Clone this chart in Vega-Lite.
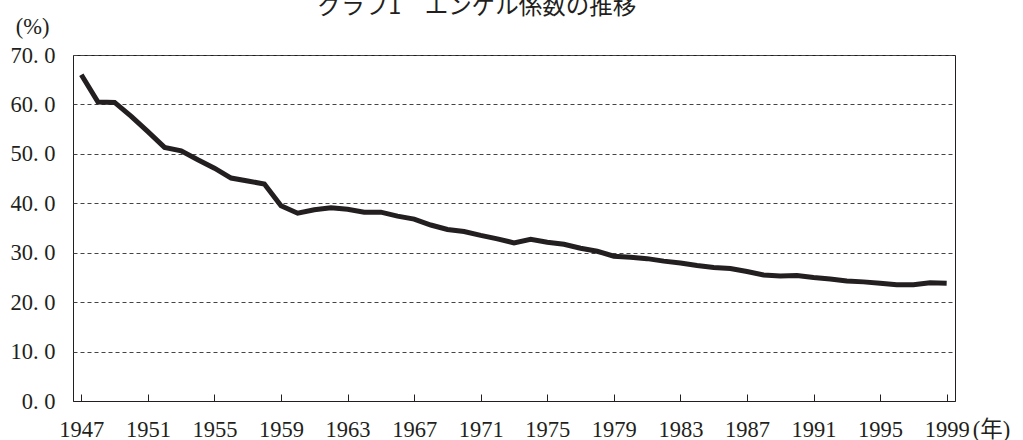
{
  "$schema": "https://vega.github.io/schema/vega-lite/v6.json",
  "width": 882,
  "height": 346,
  "autosize": "none",
  "padding": {"left": 73, "top": 55, "right": 68, "bottom": 39},
  "background": "white",
  "title": {
    "text": "グラフ1　エンゲル係数の推移",
    "font": "Noto Sans CJK JP",
    "fontSize": 23.5,
    "fontWeight": "normal",
    "color": "#231f20",
    "anchor": "middle",
    "offset": 0,
    "dx": -37,
    "dy": 3
  },
  "config": {
    "view": {"stroke": "#231f20", "strokeWidth": 1},
    "axis": {
      "labelFont": "Liberation Serif, Noto Sans CJK JP",
      "titleFont": "Liberation Serif, Noto Sans CJK JP",
      "labelFontSize": 22.5,
      "titleFontSize": 22.5,
      "labelColor": "#231f20",
      "titleColor": "#231f20",
      "titleFontWeight": "normal"
    }
  },
  "data": {
    "values": [
      {"year": 1947, "engel": 66.0},
      {"year": 1948, "engel": 60.5},
      {"year": 1949, "engel": 60.4},
      {"year": 1950, "engel": 57.6},
      {"year": 1951, "engel": 54.5},
      {"year": 1952, "engel": 51.3},
      {"year": 1953, "engel": 50.6},
      {"year": 1954, "engel": 48.8},
      {"year": 1955, "engel": 47.1},
      {"year": 1956, "engel": 45.1},
      {"year": 1957, "engel": 44.5},
      {"year": 1958, "engel": 43.9},
      {"year": 1959, "engel": 39.5},
      {"year": 1960, "engel": 38.0},
      {"year": 1961, "engel": 38.7},
      {"year": 1962, "engel": 39.1},
      {"year": 1963, "engel": 38.8},
      {"year": 1964, "engel": 38.2},
      {"year": 1965, "engel": 38.2},
      {"year": 1966, "engel": 37.4},
      {"year": 1967, "engel": 36.8},
      {"year": 1968, "engel": 35.6},
      {"year": 1969, "engel": 34.7},
      {"year": 1970, "engel": 34.3},
      {"year": 1971, "engel": 33.5},
      {"year": 1972, "engel": 32.8},
      {"year": 1973, "engel": 32.0},
      {"year": 1974, "engel": 32.7},
      {"year": 1975, "engel": 32.1},
      {"year": 1976, "engel": 31.7},
      {"year": 1977, "engel": 30.9},
      {"year": 1978, "engel": 30.3},
      {"year": 1979, "engel": 29.3},
      {"year": 1980, "engel": 29.1},
      {"year": 1981, "engel": 28.8},
      {"year": 1982, "engel": 28.3},
      {"year": 1983, "engel": 27.9},
      {"year": 1984, "engel": 27.4},
      {"year": 1985, "engel": 27.0},
      {"year": 1986, "engel": 26.8},
      {"year": 1987, "engel": 26.2},
      {"year": 1988, "engel": 25.5},
      {"year": 1989, "engel": 25.3},
      {"year": 1990, "engel": 25.4},
      {"year": 1991, "engel": 25.0},
      {"year": 1992, "engel": 24.7},
      {"year": 1993, "engel": 24.3},
      {"year": 1994, "engel": 24.1},
      {"year": 1995, "engel": 23.8},
      {"year": 1996, "engel": 23.5},
      {"year": 1997, "engel": 23.5},
      {"year": 1998, "engel": 23.9},
      {"year": 1999, "engel": 23.8}
    ]
  },
  "mark": {"type": "line", "color": "#231f20", "strokeWidth": 5, "strokeJoin": "miter", "clip": true},
  "encoding": {
    "x": {
      "field": "year",
      "type": "quantitative",
      "scale": {"domain": [1946.5, 1999.5], "nice": false, "zero": false},
      "axis": {
        "values": [1947, 1951, 1955, 1959, 1963, 1967, 1971, 1975, 1979, 1983, 1987, 1991, 1995, 1999],
        "format": "d",
        "grid": false,
        "ticks": true,
        "tickSize": -7,
        "tickColor": "#231f20",
        "domainColor": "#231f20",
        "labelPadding": 42,
        "labelBaseline": "alphabetic",
        "labelFlush": false,
        "title": "(年)",
        "titleAngle": 0,
        "titleAlign": "center",
        "titleBaseline": "alphabetic",
        "titleX": 918,
        "titleY": 35
      }
    },
    "y": {
      "field": "engel",
      "type": "quantitative",
      "scale": {"domain": [0, 70], "nice": false},
      "axis": {
        "values": [0, 10, 20, 30, 40, 50, 60, 70],
        "labelExpr": "replace(format(datum.value, '.1f'), '.', '. ')",
        "ticks": false,
        "domain": false,
        "grid": true,
        "gridColor": "#444444",
        "gridDash": [4, 3],
        "gridWidth": 1,
        "labelPadding": 18,
        "labelBaseline": "middle",
        "labelFlush": false,
        "title": "(%)",
        "titleAngle": 0,
        "titleAlign": "center",
        "titleBaseline": "middle",
        "titleX": -41,
        "titleY": -29
      }
    }
  }
}
